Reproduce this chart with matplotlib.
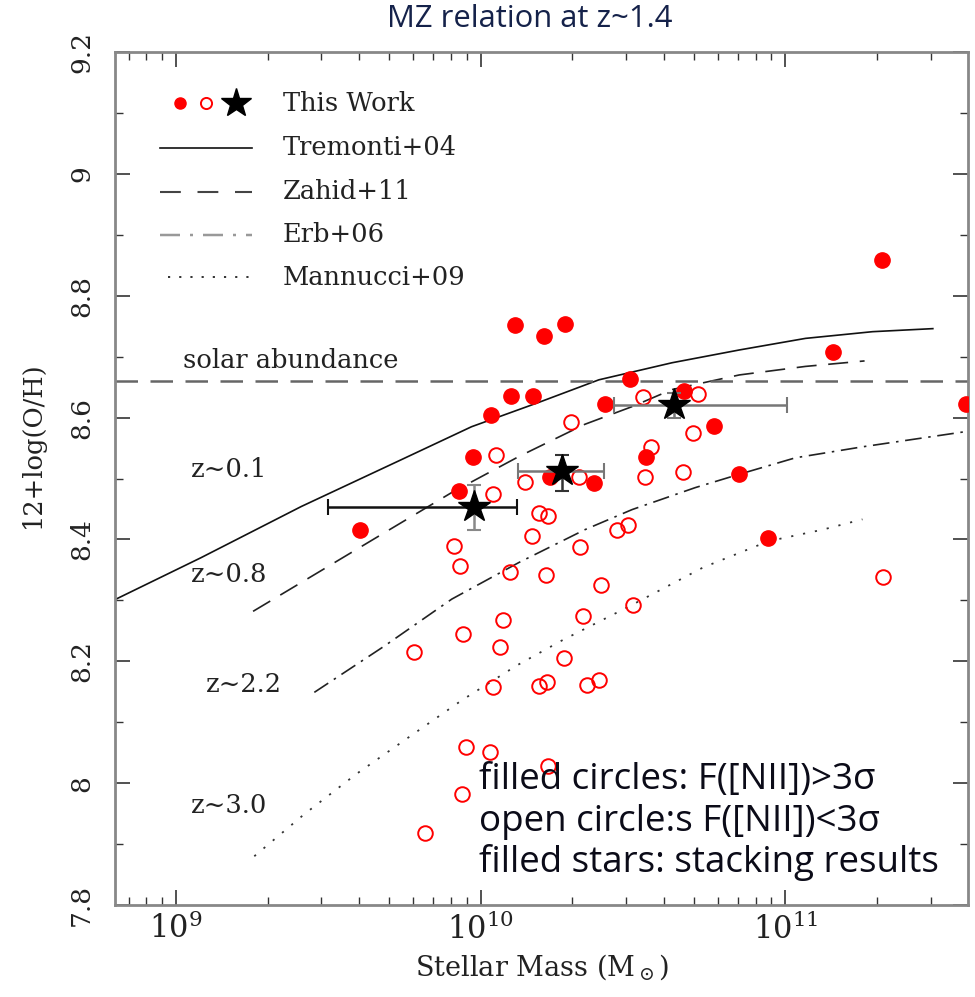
import numpy as np
import matplotlib
matplotlib.use("Agg")
import matplotlib.pyplot as plt
from matplotlib.ticker import FixedLocator, LogLocator, NullFormatter, FuncFormatter

# ---------------- data (log stellar mass, 12+log(O/H)) ----------------
filled_logm = [11.316, 10.112, 10.276, 10.207, 11.155, 10.490, 10.099, 10.171,
               10.668, 10.033, 10.408, 11.592, 10.766, 9.974, 10.543, 10.227,
               10.372, 10.849, 9.928, 9.605, 10.944]
filled_oh = [8.859, 8.752, 8.754, 8.734, 8.708, 8.664, 8.636, 8.636,
             8.644, 8.605, 8.623, 8.623, 8.587, 8.536, 8.536, 8.502,
             8.492, 8.508, 8.480, 8.415, 8.403]

open_logm = [10.533, 10.714, 10.296, 10.697, 10.049, 10.559, 10.145, 10.322,
             10.539, 10.664, 10.039, 10.191, 10.220, 10.168, 10.447, 10.484,
             10.326, 9.914, 9.931, 10.095, 10.214, 10.395, 11.319, 10.072,
             10.336, 10.500, 9.941, 9.780, 10.063, 10.273, 10.039, 10.191,
             10.217, 10.349, 10.388, 9.951, 10.030, 10.220, 9.938, 9.816]
open_oh = [8.633, 8.638, 8.593, 8.574, 8.538, 8.552, 8.495, 8.502,
           8.503, 8.511, 8.475, 8.444, 8.438, 8.405, 8.415, 8.423,
           8.387, 8.390, 8.357, 8.346, 8.341, 8.325, 8.339, 8.267,
           8.274, 8.292, 8.244, 8.215, 8.223, 8.205, 8.157, 8.159,
           8.166, 8.161, 8.170, 8.059, 8.051, 8.028, 7.982, 7.918]

# stacked results with mass-bin ranges and uncertainties
stack_logm = [9.977, 10.268, 10.635]
stack_logm_lo = [9.500, 10.122, 10.4375]
stack_logm_hi = [10.118, 10.405, 11.007]
stack_oh = [8.454, 8.513, 8.620]
stack_oh_lo = [8.416, 8.480, 8.599]
stack_oh_hi = [8.489, 8.538, 8.641]

# literature MZ relations
t04_logm = [8.803, 9.082, 9.411, 9.740, 9.970, 10.191, 10.388, 10.628, 10.849, 11.066, 11.286, 11.484]
t04_oh = [8.302, 8.370, 8.454, 8.531, 8.585, 8.625, 8.662, 8.690, 8.711, 8.730, 8.741, 8.746]

z11_logm = [9.253, 9.467, 9.684, 9.905, 10.125, 10.342, 10.497, 10.628, 10.849, 11.066, 11.260]
z11_oh = [8.282, 8.346, 8.411, 8.477, 8.536, 8.589, 8.618, 8.646, 8.670, 8.684, 8.693]

e06_logm = [9.454, 9.684, 9.905, 10.125, 10.342, 10.497, 10.704, 10.849, 11.033, 11.253, 11.592]
e06_oh = [8.149, 8.225, 8.302, 8.362, 8.416, 8.449, 8.485, 8.507, 8.534, 8.552, 8.577]

m09_logm = [9.257, 9.421, 9.592, 9.763, 9.938, 10.118, 10.266, 10.487, 10.730, 10.944, 11.122, 11.253]
m09_oh = [7.880, 7.949, 8.015, 8.075, 8.136, 8.193, 8.234, 8.290, 8.354, 8.397, 8.416, 8.433]

solar_oh = 8.66

legend_labels = ["This Work", "Tremonti+04", "Zahid+11", "Erb+06", "Mannucci+09"]
redshift_labels = ["z∼0.1", "z∼0.8", "z∼2.2", "z∼3.0"]
notes = ["filled circles: F([NII])>3σ",
         "open circle:s F([NII])<3σ",
         "filled stars: stacking results"]

# ---------------- style ----------------
plt.rcParams["font.family"] = ["DejaVu Serif", "DejaVu Sans"]
plt.rcParams["mathtext.fontset"] = "dejavuserif"
SERIF = ["DejaVu Serif", "DejaVu Sans"]
SANS = ["Open Sans", "DejaVu Sans"]
TXT = "#222222"
FS = 18.5

fig = plt.figure(figsize=(9.75, 9.97), dpi=100)
ax = fig.add_axes([0.118, 0.0923, 0.875, 0.8555])


def m(v):
    return 10 ** np.asarray(v)


ax.set_xscale("log")
ax.set_xlim(m(8.8), m(11.6))
ax.set_ylim(7.8, 9.2)

# MZ relations
lw = 1.2
ax.plot(m(t04_logm), t04_oh, color="#111111", lw=lw)
ax.plot(m(z11_logm), z11_oh, color="#222222", lw=lw, dashes=(12, 7))
ax.plot(m(e06_logm), e06_oh, color="#222222", lw=lw, dashes=(10, 4, 1.5, 4))
ax.plot(m(m09_logm), m09_oh, color="#333333", lw=1.3, dashes=(1.2, 5.5))

# solar abundance
ax.axhline(solar_oh, color="#666666", lw=1.8, dashes=(9, 5))

# individual galaxies
ax.plot(m(open_logm), open_oh, ls="none", marker="o", ms=10.5, mfc="none",
        mec="red", mew=1.4, zorder=3)
ax.plot(m(filled_logm), filled_oh, ls="none", marker="o", ms=11,
        mfc="red", mec="red", zorder=4)

# stacks with error bars
xcols = ["#111111", "#777777", "#777777"]
ycols = ["#888888", "#333333", "#777777"]
for i in range(len(stack_logm)):
    xc, yc = m(stack_logm[i]), stack_oh[i]
    ax.errorbar([xc], [yc],
                xerr=[[xc - m(stack_logm_lo[i])], [m(stack_logm_hi[i]) - xc]],
                fmt="none", ecolor=xcols[i], elinewidth=1.8, capsize=6, capthick=1.5, zorder=5)
    ax.errorbar([xc], [yc],
                yerr=[[yc - stack_oh_lo[i]], [stack_oh_hi[i] - yc]],
                fmt="none", ecolor=ycols[i], elinewidth=1.8, capsize=5, capthick=1.5, zorder=5)
ax.plot(m(stack_logm), stack_oh, ls="none", marker="*", ms=24, color="black", zorder=6)

# ---------------- legend (drawn by hand) ----------------
T = ax.transAxes
ly = [0.940, 0.8875, 0.836, 0.7855, 0.736]
ax.plot([0.0762], [ly[0]], transform=T, marker="o", ms=8, color="red", ls="none")
ax.plot([0.1067], [ly[0]], transform=T, marker="o", ms=8, mfc="none", mec="red", mew=1.4, ls="none")
ax.plot([0.1419], [ly[0]], transform=T, marker="*", ms=22, color="black", ls="none")
ax.plot([0.0528, 0.1606], [ly[1]] * 2, transform=T, color="#111111", lw=lw)
ax.plot([0.0528, 0.1606], [ly[2]] * 2, transform=T, color="#444444", lw=lw + 0.3, dashes=(10, 8))
ax.plot([0.0528, 0.1606], [ly[3]] * 2, transform=T, color="#999999", lw=lw + 0.6, dashes=(8, 4, 1.2, 4))
ax.plot([0.062, 0.158], [ly[4]] * 2, transform=T, color="#222222", lw=1.3, dashes=(1.2, 5))
for lab, y in zip(legend_labels, ly):
    ax.text(0.197, y, lab, transform=T, va="center", ha="left", fontsize=FS,
            color=TXT, family=SERIF)

# redshift tags and solar line label
ax.text(m(9.174), 8.515, redshift_labels[0], ha="center", va="center", fontsize=FS, color=TXT, family=SERIF)
ax.text(m(9.174), 8.343, redshift_labels[1], ha="center", va="center", fontsize=FS, color=TXT, family=SERIF)
ax.text(m(9.224), 8.162, redshift_labels[2], ha="center", va="center", fontsize=FS, color=TXT, family=SERIF)
ax.text(m(9.174), 7.964, redshift_labels[3], ha="center", va="center", fontsize=FS, color=TXT, family=SERIF)
ax.text(m(9.378), 8.693, "solar abundance", ha="center", va="center", fontsize=FS, color=TXT, family=SERIF)

# notes in the lower right
for txt, yy in zip(notes, [0.2177, 0.1755, 0.1354]):
    fig.text(0.491, yy, txt, ha="left", va="center", fontsize=26.5,
             color="#0b0b18", family=SANS)

# ---------------- axes ----------------
ax.yaxis.set_major_locator(FixedLocator([7.8, 8.0, 8.2, 8.4, 8.6, 8.8, 9.0, 9.2]))
ax.yaxis.set_minor_locator(FixedLocator(np.arange(7.9, 9.2, 0.2)))
ax.yaxis.set_major_formatter(FuncFormatter(lambda v, p: f"{v:g}"))
ax.xaxis.set_major_locator(LogLocator(base=10, numticks=10))
ax.xaxis.set_minor_locator(LogLocator(base=10, subs=np.arange(2, 10), numticks=20))
ax.xaxis.set_minor_formatter(NullFormatter())
ax.xaxis.set_major_formatter(FuncFormatter(lambda v, p: r"$10^{%d}$" % round(np.log10(v))))

ax.tick_params(which="both", direction="in", top=True, right=True, color="#333333")
ax.tick_params(which="major", length=11, width=1.2)
ax.tick_params(which="minor", length=6, width=1.0)
ax.tick_params(axis="x", which="major", labelsize=22, pad=6, labelcolor=TXT)
ax.tick_params(axis="y", which="major", labelsize=19, pad=15, labelrotation=90, labelcolor=TXT)
for lbl in ax.get_yticklabels():
    lbl.set_va("center")

for sp in ax.spines.values():
    sp.set_color("#888888")
    sp.set_linewidth(2.0)

ax.set_xlabel(r"Stellar Mass (M$_\odot$)", fontsize=19.5, color=TXT, labelpad=4)
ax.set_ylabel("12+log(O/H)", fontsize=18.5, color=TXT)
ax.yaxis.set_label_coords(-0.082, 0.54)

fig.text(0.543, 0.981, "MZ relation at z~1.4", ha="center", va="center", fontsize=22.3,
         color="#15224a", family=SANS)

fig.savefig("out.png", dpi=100)
